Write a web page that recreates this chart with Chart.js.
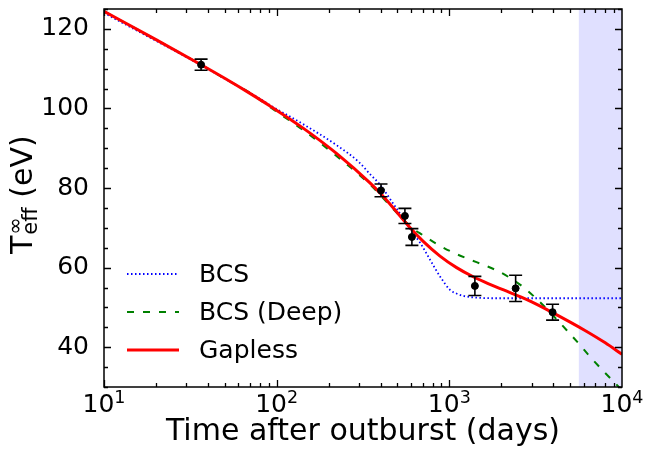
<!DOCTYPE html>
<html lang="en">
  <head>
    <meta charset="UTF-8" />
    <title>Cooling curve</title>
    <style>
      body { margin: 0; background: #fff; }
      #wrap { width: 659px; height: 450px; }
    </style>
  </head>
  <body>
    <div id="wrap"><canvas id="myChart"></canvas></div>
  </body>
</html>
<script src="https://cdn.jsdelivr.net/npm/chart.js"></script>

<script>
  // observed temperatures with error bars
  const obsDays = [36.5, 402, 553, 607, 1406, 2421, 3963];
  const obsTemp = [111.0, 79.4, 73.0, 67.7, 55.4, 54.8, 48.8];
  const obsErr = [1.4, 1.6, 1.9, 2.1, 2.4, 3.3, 2.0];

  // model curves
  const gaplessDays = [10, 20, 36.5, 50, 70, 91, 143, 222, 347, 402, 453, 591, 706, 883, 1102, 1375, 1718, 2344, 3000, 3963, 6000, 8000, 10000];
  const gaplessTemp = [124.4, 117.3, 111.0, 107.6, 103.8, 100.7, 95.0, 88.7, 81.3, 78.5, 76.0, 70.1, 66.6, 62.9, 60.0, 57.7, 55.8, 53.4, 51.4, 48.7, 44.4, 41.1, 38.2];

  const bcsDays = [10, 20, 36.5, 50, 70, 91, 143, 222, 300, 347, 396, 453, 550, 600, 676, 773, 883, 1009, 1100, 1205, 1500, 2000, 10000];
  const bcsTemp = [124.0, 117.0, 110.9, 107.5, 104.0, 100.9, 96.0, 90.8, 86.5, 83.5, 80.9, 77.3, 71.9, 69.4, 66.3, 62.0, 57.8, 54.4, 53.5, 52.9, 52.4, 52.3, 52.3];

  const deepDays = [10, 20, 36.5, 50, 70, 91, 143, 254, 347, 453, 550, 600, 700, 850, 1050, 1300, 1600, 1900, 2250, 2700, 3300, 4000, 4800, 5700, 6500, 7800, 9300, 10000];
  const deepTemp = [124.4, 117.3, 111.0, 107.5, 103.9, 100.4, 94.5, 86.0, 80.9, 75.6, 71.8, 70.2, 68.2, 65.9, 63.8, 62.1, 60.6, 59.2, 57.4, 55.0, 51.6, 47.9, 44.2, 40.6, 37.7, 34.0, 30.6, 29.2];

  const legendNames = ["BCS", "BCS (Deep)", "Gapless"];
  const xMajor = [10, 100, 1000, 10000];
  const xTickBase = "10";
  const xTickExp = ["1", "2", "3", "4"];
  const yMajor = [40, 60, 80, 100, 120];
  const shadeFrom = 5623;
  const shadeTo = 10000;

  const FONT = "DejaVu Sans";

  function toXY(xs, ys) {
    return xs.map((v, i) => ({ x: v, y: ys[i] }));
  }

  function noPad(s) {
    s.paddingTop = 0;
    s.paddingBottom = 0;
    s.paddingLeft = 0;
    s.paddingRight = 0;
  }

  const decor = {
    id: "decor",
    beforeDatasetsDraw(chart) {
      const { ctx, chartArea: a, scales } = chart;
      const x0 = scales.x.getPixelForValue(shadeFrom);
      const x1 = scales.x.getPixelForValue(shadeTo);
      ctx.save();
      ctx.fillStyle = "rgba(0,0,255,0.12)";
      ctx.fillRect(x0, a.top, x1 - x0, a.bottom - a.top);
      ctx.restore();
    },
    afterDatasetsDraw(chart) {
      const { ctx, scales } = chart;
      const x = scales.x, y = scales.y;
      ctx.save();
      ctx.strokeStyle = "#000";
      ctx.lineWidth = 1.6;
      obsDays.forEach((d, i) => {
        const px = x.getPixelForValue(d);
        const lo = y.getPixelForValue(obsTemp[i] - obsErr[i]);
        const hi = y.getPixelForValue(obsTemp[i] + obsErr[i]);
        ctx.beginPath();
        ctx.moveTo(px, lo); ctx.lineTo(px, hi);
        ctx.moveTo(px - 6.5, lo); ctx.lineTo(px + 6.5, lo);
        ctx.moveTo(px - 6.5, hi); ctx.lineTo(px + 6.5, hi);
        ctx.stroke();
      });
      ctx.restore();
    },
    afterDraw(chart) {
      const { ctx, chartArea: a, scales } = chart;
      const x = scales.x, y = scales.y;
      ctx.save();
      ctx.strokeStyle = "#000";
      ctx.lineWidth = 1.3;

      // inward ticks on all four sides
      ctx.beginPath();
      for (let dec = 10; dec < 10000; dec *= 10) {
        for (let k = 1; k <= 9; k++) {
          const len = k === 1 ? 7 : 4;
          const px = Math.round(x.getPixelForValue(dec * k)) + 0.5;
          ctx.moveTo(px, a.bottom); ctx.lineTo(px, a.bottom - len);
          ctx.moveTo(px, a.top); ctx.lineTo(px, a.top + len);
        }
      }
      for (let v = 30; v <= 125; v += 5) {
        const len = yMajor.includes(v) ? 7 : 4;
        const py = Math.round(y.getPixelForValue(v)) + 0.5;
        ctx.moveTo(a.left, py); ctx.lineTo(a.left + len, py);
        ctx.moveTo(a.right, py); ctx.lineTo(a.right - len, py);
      }
      ctx.stroke();

      // frame
      ctx.lineWidth = 1.5;
      ctx.strokeRect(a.left, a.top, a.right - a.left, a.bottom - a.top);

      // x tick labels 10^n
      ctx.fillStyle = "#000";
      ctx.textBaseline = "alphabetic";
      ctx.textAlign = "left";
      xMajor.forEach((v, i) => {
        const px = x.getPixelForValue(v);
        ctx.font = "25px " + FONT;
        const wb = ctx.measureText(xTickBase).width;
        ctx.font = "17.5px " + FONT;
        const we = ctx.measureText(xTickExp[i]).width;
        const left = px - (wb + we) / 2;
        ctx.font = "25px " + FONT;
        ctx.fillText(xTickBase, left, a.bottom + 25);
        ctx.font = "17.5px " + FONT;
        ctx.fillText(xTickExp[i], left + wb, a.bottom + 16);
      });

      // y title: T_eff^inf (eV)
      ctx.translate(32, 254);
      ctx.rotate(-Math.PI / 2);
      ctx.font = "30px " + FONT;
      ctx.fillText("T", 0, 0);
      const w = ctx.measureText("T").width;
      ctx.font = "21px " + FONT;
      ctx.fillText("eff", w + 1, 5);
      ctx.fillText("∞", w + 1, -10);
      const ws = Math.max(ctx.measureText("eff").width, ctx.measureText("∞").width);
      ctx.font = "30px " + FONT;
      ctx.fillText(" (eV)", w + ws + 1, 0);
      ctx.restore();

      // legend
      ctx.save();
      const rows = [
        { name: legendNames[0], ds: chart.data.datasets[3], y: 274 },
        { name: legendNames[1], ds: chart.data.datasets[2], y: 312 },
        { name: legendNames[2], ds: chart.data.datasets[1], y: 350 },
      ];
      rows.forEach((r) => {
        ctx.strokeStyle = r.ds.borderColor;
        ctx.lineWidth = r.ds.borderWidth;
        ctx.setLineDash(r.ds.borderDash || []);
        ctx.beginPath();
        ctx.moveTo(127, r.y);
        ctx.lineTo(179, r.y);
        ctx.stroke();
        ctx.fillStyle = "#000";
        ctx.font = "25px " + FONT;
        ctx.textBaseline = "middle";
        ctx.fillText(r.name, 199, r.y + 1);
      });
      ctx.restore();
    },
  };

  const ctx = document.getElementById("myChart").getContext("2d");
  const myChart = new Chart(ctx, {
    type: "line",
    data: {
      datasets: [
        {
          label: "Data",
          data: toXY(obsDays, obsTemp),
          showLine: false,
          pointRadius: 3.5,
          pointBackgroundColor: "#000",
          pointBorderColor: "#000",
          order: 0,
        },
        {
          label: legendNames[2],
          data: toXY(gaplessDays, gaplessTemp),
          borderColor: "#ff0000",
          borderWidth: 3,
          pointRadius: 0,
          cubicInterpolationMode: "monotone",
          order: 1,
        },
        {
          label: legendNames[1],
          data: toXY(deepDays, deepTemp),
          borderColor: "#008000",
          borderWidth: 2,
          borderDash: [7, 9],
          pointRadius: 0,
          cubicInterpolationMode: "monotone",
          order: 2,
        },
        {
          label: legendNames[0],
          data: toXY(bcsDays, bcsTemp),
          borderColor: "#0000ff",
          borderWidth: 1.8,
          borderDash: [1.5, 2.5],
          pointRadius: 0,
          cubicInterpolationMode: "monotone",
          order: 3,
        },
      ],
    },
    options: {
      responsive: true,
      maintainAspectRatio: false,
      animation: false,
      layout: { padding: { left: 0, top: 9, right: 37, bottom: 0 } },
      plugins: { legend: { display: false }, tooltip: { enabled: false } },
      scales: {
        x: {
          type: "logarithmic",
          min: 10,
          max: 10000,
          afterBuildTicks: (s) => { s.ticks = xMajor.map((v) => ({ value: v })); },
          afterFit: (s) => { s.height = 63; noPad(s); },
          grid: { display: false },
          border: { display: false },
          ticks: { display: false },
          title: {
            display: true,
            text: "Time after outburst (days)",
            color: "#000",
            font: { family: FONT, size: 30 },
            padding: { top: 0, bottom: 0 },
          },
        },
        y: {
          min: 30,
          max: 125,
          afterBuildTicks: (s) => { s.ticks = yMajor.map((v) => ({ value: v })); },
          afterFit: (s) => { s.width = 104; noPad(s); },
          grid: { display: false },
          border: { display: false },
          ticks: {
            color: "#000",
            font: { family: FONT, size: 25 },
            padding: 7,
          },
        },
      },
    },
    plugins: [decor],
  });
</script>
